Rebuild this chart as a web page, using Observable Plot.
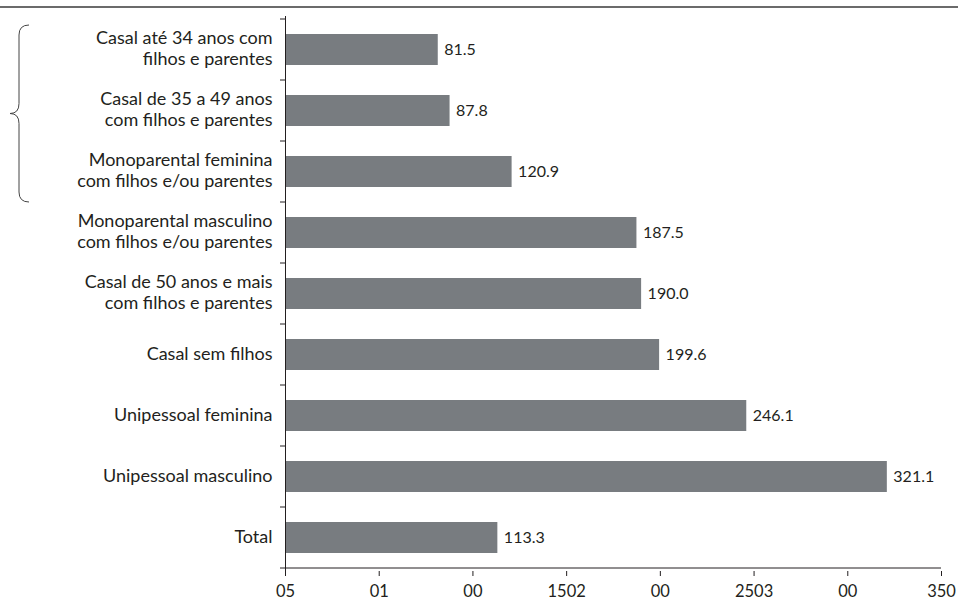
<!DOCTYPE html>
<html>
<head>
<meta charset="utf-8">
<script src="https://cdn.jsdelivr.net/npm/d3@7"></script>
<script src="https://cdn.jsdelivr.net/npm/@observablehq/plot@0.6"></script>
<style>
  html, body { margin: 0; padding: 0; background: #fff; }
  #chart svg { display: block; }
</style>
</head>
<body>
<div id="chart"></div>
<script>
const categories = [
  "Casal até 34 anos com\nfilhos e parentes",
  "Casal de 35 a 49 anos\ncom filhos e parentes",
  "Monoparental feminina\ncom filhos e/ou parentes",
  "Monoparental masculino\ncom filhos e/ou parentes",
  "Casal de 50 anos e mais\ncom filhos e parentes",
  "Casal sem filhos",
  "Unipessoal feminina",
  "Unipessoal masculino",
  "Total"
];
const values = [81.5, 87.8, 120.9, 187.5, 190.0, 199.6, 246.1, 321.1, 113.3];
const valueLabels = ["81.5", "87.8", "120.9", "187.5", "190.0", "199.6", "246.1", "321.1", "113.3"];
const xTicks = [0, 50, 100, 150, 200, 250, 300, 350];
const xTickLabels = ["05", "01", "00", "1502", "00", "2503", "00", "350"];
const bracedCategories = categories.slice(0, 3);

const data = categories.map((c, i) => ({cat: c, value: values[i], label: valueLabels[i]}));

const W = 958, H = 604;
const FONT = "Lato, 'Open Sans', sans-serif";
const TEXT = "#231f20";

const chart = Plot.plot({
  width: W,
  height: H,
  marginLeft: 285,
  marginRight: 17,
  marginTop: 16,
  marginBottom: 33,
  style: {fontFamily: FONT, fontSize: "16px", color: TEXT, background: "#fff"},
  x: {domain: [0, 350], label: null},
  y: {domain: categories, padding: 0, label: null},
  marks: [
    Plot.barX(data, {y: "cat", x: "value", fill: "#787c80", insetTop: 15, insetBottom: 15}),
    Plot.text(data, {y: "cat", x: "value", text: "label", textAnchor: "start", dx: 6, fontSize: 16, fill: TEXT}),
    Plot.axisX({ticks: xTicks, tickFormat: (d) => xTickLabels[xTicks.indexOf(d)], tickSize: 5, tickPadding: 9, fontSize: 16.5, stroke: TEXT, fill: TEXT, label: null}),
    Plot.axisY({tickSize: 0, tickPadding: 13, fontSize: 18, lineHeight: 1.17, dy: -2, fill: TEXT, label: null}),
    Plot.ruleX([0], {stroke: TEXT, strokeWidth: 1}),
    Plot.ruleY([0], {stroke: TEXT})
  ]
});

document.getElementById("chart").appendChild(chart);

const svg = d3.select(chart);

const xs = chart.scale("x");
const ys = chart.scale("y");
const x0 = xs.apply(0);
const x1 = xs.apply(350);
const bw = ys.bandwidth;
const yBot = ys.apply(categories[categories.length - 1]) + bw;

// bottom axis baseline
svg.append("line")
  .attr("x1", x0).attr("x2", x1).attr("y1", yBot).attr("y2", yBot)
  .attr("stroke", TEXT).attr("stroke-width", 1);

// y-axis boundary ticks
const bounds = categories.map(c => ys.apply(c)).concat([yBot]);
svg.append("g").selectAll("line").data(bounds).join("line")
  .attr("x1", x0 - 5).attr("x2", x0).attr("y1", d => d).attr("y2", d => d)
  .attr("stroke", TEXT).attr("stroke-width", 1);

// top rule
svg.append("line")
  .attr("x1", 0).attr("x2", W).attr("y1", 7).attr("y2", 7)
  .attr("stroke", "#3a3a3a").attr("stroke-width", 1.5);

// brace
const bTop = ys.apply(bracedCategories[0]) + 6;
const bBot = ys.apply(bracedCategories[bracedCategories.length - 1]) + bw;
const bMid = (bTop + bBot) / 2;
const armX = 29, spineX = 19, tipX = 10, r = 10;
const p = `M${armX},${bTop} Q${spineX},${bTop} ${spineX},${bTop + r} L${spineX},${bMid - r} Q${spineX},${bMid} ${tipX},${bMid} Q${spineX},${bMid} ${spineX},${bMid + r} L${spineX},${bBot - r} Q${spineX},${bBot} ${armX},${bBot}`;
svg.append("path").attr("d", p).attr("fill", "none").attr("stroke", "#444").attr("stroke-width", 1);
</script>
</body>
</html>
